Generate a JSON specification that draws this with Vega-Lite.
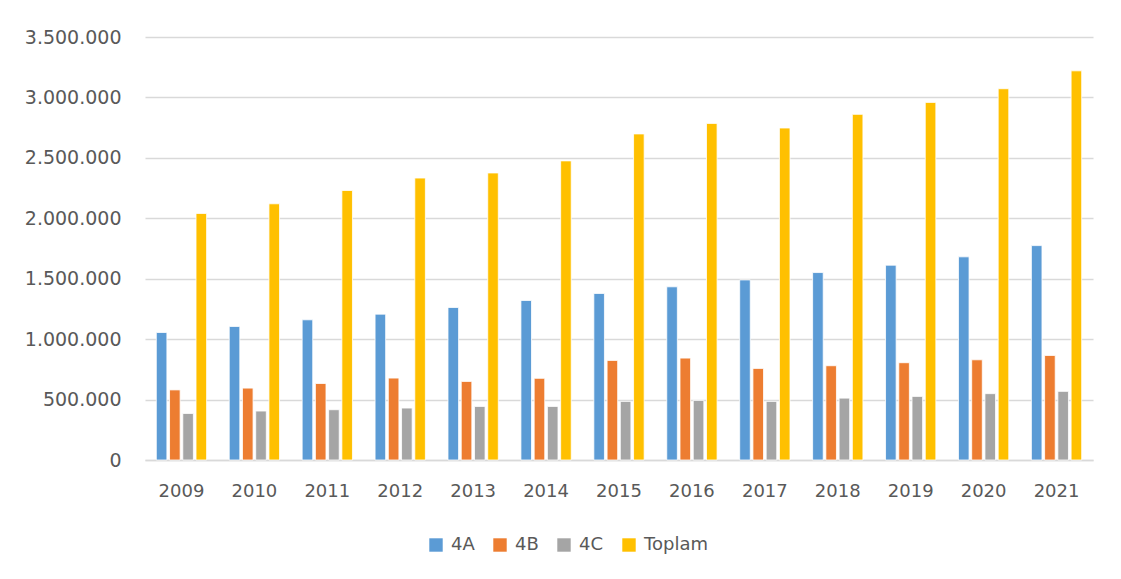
{
  "$schema": "https://vega.github.io/schema/vega-lite/v6.json",
  "width": 948,
  "height": 423,
  "autosize": "none",
  "padding": {"left": 145, "top": 37, "right": 28, "bottom": 119},
  "background": "white",
  "config": {
    "locale": {"number": {"decimal": ",", "thousands": ".", "grouping": [3], "currency": ["", ""]}},
    "font": "DejaVu Sans",
    "view": {"stroke": null},
    "axis": {"labelFont": "DejaVu Sans", "labelFontSize": 18, "labelColor": "#595959", "ticks": false, "title": null}
  },
  "data": {
    "values": [
      {"yil": "2009", "seri": "4A", "deger": 1055000},
      {"yil": "2009", "seri": "4B", "deger": 580000},
      {"yil": "2009", "seri": "4C", "deger": 385000},
      {"yil": "2009", "seri": "Toplam", "deger": 2040000},
      {"yil": "2010", "seri": "4A", "deger": 1105000},
      {"yil": "2010", "seri": "4B", "deger": 595000},
      {"yil": "2010", "seri": "4C", "deger": 405000},
      {"yil": "2010", "seri": "Toplam", "deger": 2120000},
      {"yil": "2011", "seri": "4A", "deger": 1160000},
      {"yil": "2011", "seri": "4B", "deger": 633000},
      {"yil": "2011", "seri": "4C", "deger": 416000},
      {"yil": "2011", "seri": "Toplam", "deger": 2230000},
      {"yil": "2012", "seri": "4A", "deger": 1207000},
      {"yil": "2012", "seri": "4B", "deger": 678000},
      {"yil": "2012", "seri": "4C", "deger": 430000},
      {"yil": "2012", "seri": "Toplam", "deger": 2333000},
      {"yil": "2013", "seri": "4A", "deger": 1262000},
      {"yil": "2013", "seri": "4B", "deger": 650000},
      {"yil": "2013", "seri": "4C", "deger": 443000},
      {"yil": "2013", "seri": "Toplam", "deger": 2375000},
      {"yil": "2014", "seri": "4A", "deger": 1320000},
      {"yil": "2014", "seri": "4B", "deger": 676000},
      {"yil": "2014", "seri": "4C", "deger": 443000},
      {"yil": "2014", "seri": "Toplam", "deger": 2475000},
      {"yil": "2015", "seri": "4A", "deger": 1378000},
      {"yil": "2015", "seri": "4B", "deger": 824000},
      {"yil": "2015", "seri": "4C", "deger": 485000},
      {"yil": "2015", "seri": "Toplam", "deger": 2698000},
      {"yil": "2016", "seri": "4A", "deger": 1433000},
      {"yil": "2016", "seri": "4B", "deger": 843000},
      {"yil": "2016", "seri": "4C", "deger": 493000},
      {"yil": "2016", "seri": "Toplam", "deger": 2785000},
      {"yil": "2017", "seri": "4A", "deger": 1490000},
      {"yil": "2017", "seri": "4B", "deger": 758000},
      {"yil": "2017", "seri": "4C", "deger": 485000},
      {"yil": "2017", "seri": "Toplam", "deger": 2747000},
      {"yil": "2018", "seri": "4A", "deger": 1551000},
      {"yil": "2018", "seri": "4B", "deger": 780000},
      {"yil": "2018", "seri": "4C", "deger": 512000},
      {"yil": "2018", "seri": "Toplam", "deger": 2860000},
      {"yil": "2019", "seri": "4A", "deger": 1612000},
      {"yil": "2019", "seri": "4B", "deger": 805000},
      {"yil": "2019", "seri": "4C", "deger": 526000},
      {"yil": "2019", "seri": "Toplam", "deger": 2959000},
      {"yil": "2020", "seri": "4A", "deger": 1681000},
      {"yil": "2020", "seri": "4B", "deger": 829000},
      {"yil": "2020", "seri": "4C", "deger": 549000},
      {"yil": "2020", "seri": "Toplam", "deger": 3072000},
      {"yil": "2021", "seri": "4A", "deger": 1774000},
      {"yil": "2021", "seri": "4B", "deger": 865000},
      {"yil": "2021", "seri": "4C", "deger": 568000},
      {"yil": "2021", "seri": "Toplam", "deger": 3220000}
    ]
  },
  "mark": {"type": "bar", "stroke": "white", "strokeWidth": 0.8},
  "encoding": {
    "x": {
      "field": "yil", "type": "nominal",
      "scale": {"paddingInner": 0.31, "paddingOuter": 0.155},
      "axis": {"labelAngle": 0, "labelPadding": 22, "domainColor": "#d9d9d9", "domainWidth": 1.5, "grid": false}
    },
    "xOffset": {"field": "seri", "type": "nominal", "scale": {"paddingInner": 0.2}},
    "y": {
      "field": "deger", "type": "quantitative",
      "scale": {"domain": [0, 3500000], "nice": false},
      "axis": {"values": [0, 500000, 1000000, 1500000, 2000000, 2500000, 3000000, 3500000], "format": ",d", "domain": false, "gridColor": "#d9d9d9", "gridWidth": 1.5, "labelPadding": 24, "labelFontSize": 19}
    },
    "color": {
      "field": "seri", "type": "nominal",
      "scale": {"domain": ["4A", "4B", "4C", "Toplam"], "range": ["#5b9bd5", "#ed7d31", "#a5a5a5", "#ffc000"]},
      "legend": {"title": null, "orient": "none", "legendX": 282, "legendY": 499, "direction": "horizontal", "symbolType": "square", "symbolSize": 180, "symbolStrokeWidth": 0, "labelFontSize": 18, "labelColor": "#595959", "labelFont": "DejaVu Sans", "columnPadding": 16, "labelOffset": 6}
    }
  }
}
